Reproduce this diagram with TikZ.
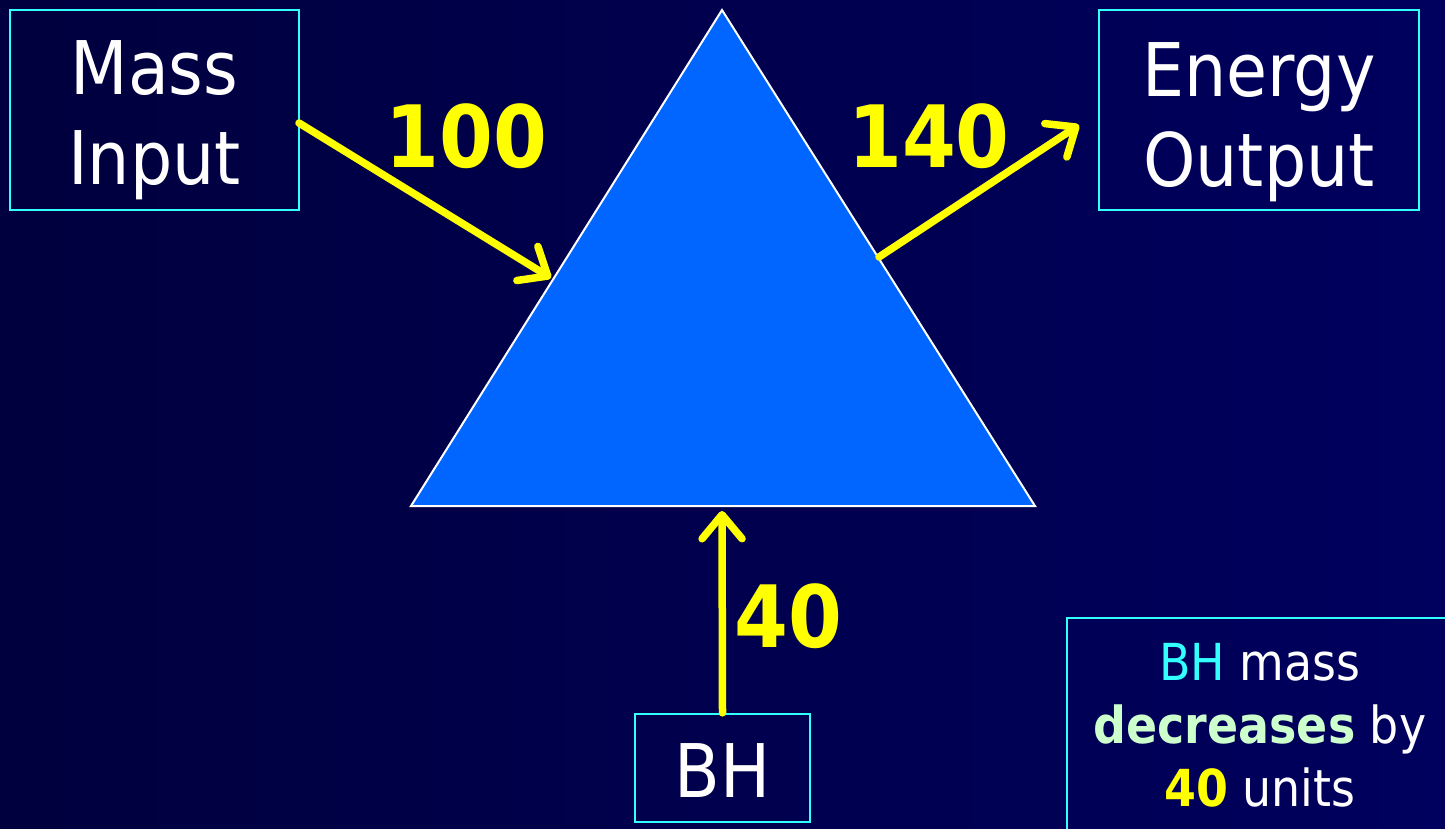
\documentclass[tikz,border=0pt]{standalone}
\usepackage{fontspec}
\setmainfont{DejaVu Sans Condensed}
\usetikzlibrary{arrows.meta,calc}
\definecolor{bgL}{HTML}{00003E}
\definecolor{bgR}{HTML}{00005E}
\definecolor{triblue}{HTML}{0066FF}
\definecolor{cyanc}{HTML}{33FFFF}
\definecolor{yel}{HTML}{FFFF00}
\definecolor{mint}{HTML}{CCFFCC}
\tikzset{
  box/.style={draw=cyanc, line width=2.2pt, inner sep=0pt},
  boxtext/.style={text=white, align=center, font=\fontsize{74}{90}\selectfont, inner sep=0pt},
  num/.style={text=yel, font=\bfseries\fontsize{86}{86}\selectfont, inner sep=0pt},
  flow/.style={draw=yel, line width=7.5pt, line cap=round,
    -{Straight Barb[length=24pt,width=40pt,round]}}
}
\begin{document}
\begin{tikzpicture}[x=1pt,y=-1pt]
\useasboundingbox (0,0) rectangle (1445,829);
\shade[left color=bgL, right color=bgR] (0,0) rectangle (1445,829);
% triangle
\coordinate (T) at (722,10);
\coordinate (L) at (411,506);
\coordinate (R) at (1035,506);
\draw[white, line width=2pt, fill=triblue, line join=miter] (T) -- (L) -- (R) -- cycle;
% boxes
\node[box, minimum width=289, minimum height=200] (mass) at (154.5,110) {};
\node[boxtext] (masst) at ($(mass.center)+(0,10)$) {Mass\\Input};
\node[box, minimum width=320, minimum height=200] (energy) at (1259,110) {};
\node[boxtext] (energyt) at ($(energy.center)+(0,12)$) {Energy\\Output};
\node[box, minimum width=175, minimum height=108] (bh) at (722.5,768) {};
\node[boxtext] (bht) at (722.5,771) {BH};
\node[box, minimum width=386, minimum height=214, text=white, align=center,
      font=\fontsize{51}{63}\selectfont] (note) at (1260,725)
  {\textcolor{cyanc}{BH} mass\\\textcolor{mint}{\bfseries decreases} by\\\textcolor{yel}{\bfseries 40} units};
% connectors
\coordinate (inS) at (299,123);
\coordinate (inE) at (551,278);
\coordinate (outS) at (879,257);
\coordinate (outE) at (1079,125);
\coordinate (bhE) at (722,511);
\draw[flow] (inS) -- (inE);
\draw[flow] (outS) -- (outE);
\draw[flow] (bh.north) -- (bhE);
% numbers
\node[num] (n100) at (466.5,136) {100};
\node[num] (n140) at (929,136) {140};
\node[num] (n40) at (788,616) {40};
\end{tikzpicture}
\end{document}
